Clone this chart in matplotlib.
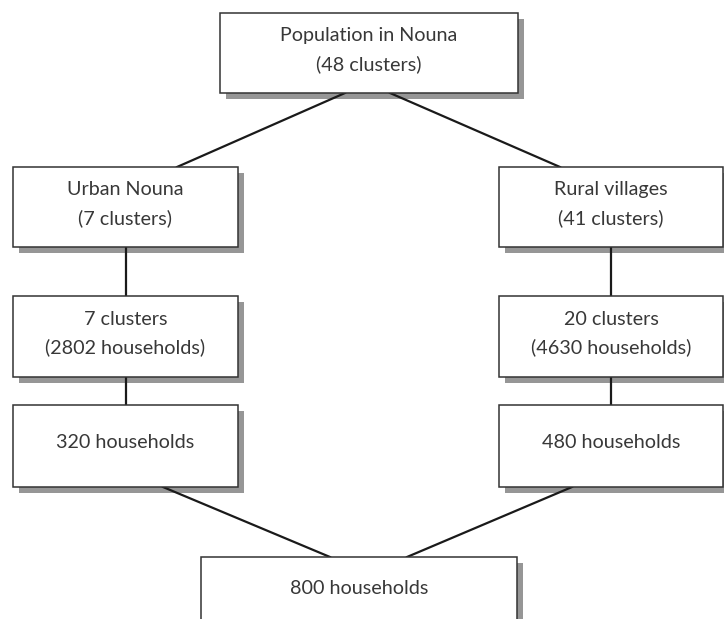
import matplotlib.pyplot as plt
from matplotlib.patches import Rectangle

# box texts
labels = ['Population in Nouna\n(48 clusters)',
          'Urban Nouna\n(7 clusters)', 'Rural villages\n(41 clusters)',
          '7 clusters\n(2802 households)', '20 clusters\n(4630 households)',
          '320 households', '480 households',
          '800 households']

# layout in pixels: x0, y0, x1, y1 (y from the top)
boxes = [(220, 13, 518, 93),
         (13, 167, 238, 247), (499, 167, 723, 247),
         (13, 296, 238, 377), (499, 296, 723, 377),
         (13, 405, 238, 487), (499, 405, 723, 487),
         (201, 557, 517, 640)]
# connectors: (x0, y0, x1, y1)
links = [(345, 93, 177, 167), (390, 93, 560, 167),
         (125.5, 247, 125.5, 296), (611, 247, 611, 296),
         (125.5, 377, 125.5, 405), (611, 377, 611, 405),
         (163, 487, 330, 557), (572, 487, 407, 557)]

fig = plt.figure(figsize=(7.24, 6.19), dpi=100)
ax = fig.add_axes([0, 0, 1, 1])
ax.set_xlim(0, 724)
ax.set_ylim(619, 0)
ax.axis('off')

# lines go over the shadows but under the boxes
for x0, y0, x1, y1 in links:
    ax.plot([x0, x1], [y0, y1], color='#1a1a1a', lw=1.6, zorder=2.5)

sh = 6
for (x0, y0, x1, y1), lab in zip(boxes, labels):
    ax.add_patch(Rectangle((x0 + sh, y0 + sh), x1 - x0, y1 - y0,
                           facecolor='#969696', edgecolor='none', zorder=2))
    ax.add_patch(Rectangle((x0, y0), x1 - x0, y1 - y0,
                           facecolor='white', edgecolor='#333333', lw=1.1, zorder=3))
    ty = (y0 + y1) / 2 - 3
    if lab == '800 households':
        ty = 588
    ax.text((x0 + x1) / 2, ty, lab, ha='center', va='center',
            fontsize=14.2, color='#383838', family='Lato',
            linespacing=1.7, zorder=4)

fig.savefig('out.png', dpi=100)
